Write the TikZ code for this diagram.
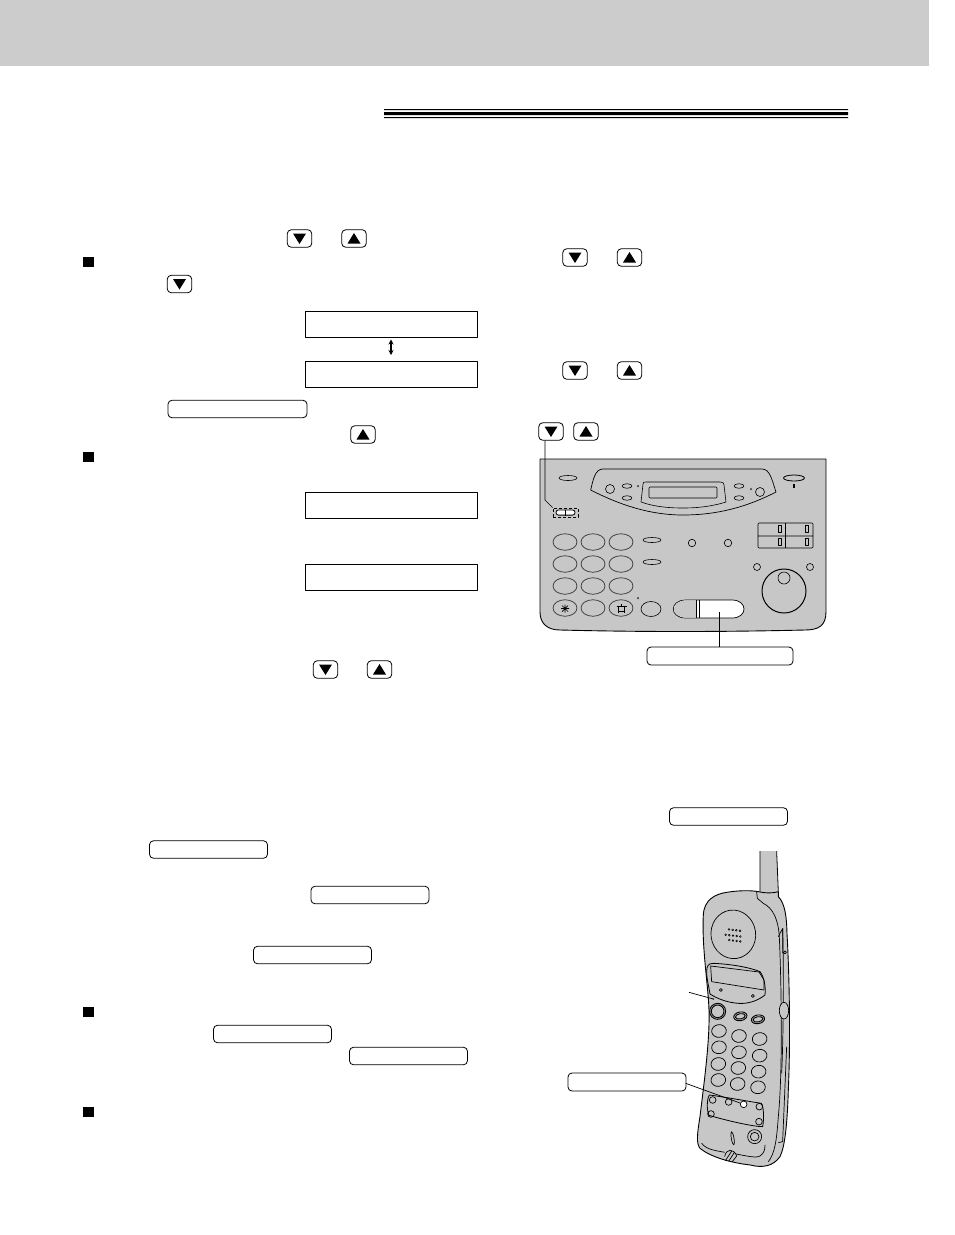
\documentclass[tikz,border=0pt]{standalone}
\usetikzlibrary{shapes.geometric,arrows.meta}
\definecolor{bandgray}{gray}{0.80}
\definecolor{bodygray}{gray}{0.78}
\tikzset{
  keybtn/.style={draw,rounded corners=4pt,line width=.8pt,fill=white,minimum width=24.5pt,minimum height=17.5pt,inner sep=0pt},
  longbtn/.style={keybtn,minimum width=118pt,minimum height=17.5pt},
  lcdbox/.style={draw,line width=1pt,fill=white,minimum width=172pt,minimum height=26pt,inner sep=0pt},
  blocksq/.style={fill=black,minimum size=10.5pt,inner sep=0pt},
  oval/.style={draw,ellipse,line width=.6pt,inner sep=0pt},
  roundb/.style={draw,circle,line width=.6pt,inner sep=0pt},
  dotb/.style={fill=black!70,circle,inner sep=0pt,minimum size=2.5pt},
  hline/.style={line width=.7pt}
}
\newcommand{\keydown}[3]{\node[keybtn] (#1) at (#2,#3) {};
\fill (#2-6.5,#3-5)--(#2+6.5,#3-5)--(#2,#3+5.5)--cycle;}
\newcommand{\keyup}[3]{\node[keybtn] (#1) at (#2,#3) {};
\fill (#2-6.5,#3+5)--(#2+6.5,#3+5)--(#2,#3-5.5)--cycle;}
\begin{document}
\begin{tikzpicture}[x=1pt,y=-1pt,line join=round]
\useasboundingbox (0,0) rectangle (954,1235);
\fill[bandgray] (0,0) rectangle (929,66);
% triple rule
\fill (384,109) rectangle (848,110.2) (384,112) rectangle (848,115) (384,117) rectangle (848,118.2);
% left column
\keydown{dnA}{299.5}{238.5}
\keyup{upA}{354}{238.5}
\node[blocksq] (sqA) at (88.5,262) {};
\keydown{dnB}{179.5}{284}
\node[lcdbox] (lcdA) at (391,324) {};
\node[lcdbox] (lcdB) at (391,374.5) {};
\draw[{Stealth[length=5pt,width=5pt]}-{Stealth[length=5pt,width=5pt]},line width=1.2pt] ([yshift=-2pt]lcdA.south) -- ([yshift=6pt]lcdB.north);
\node[longbtn,minimum width=139pt] (setA) at (237.5,409) {};
\keyup{upB}{363}{434.5}
\node[blocksq] (sqB) at (88.5,457) {};
\node[lcdbox] (lcdC) at (391,505) {};
\node[lcdbox] (lcdD) at (391,577) {};
\keydown{dnC}{325.5}{669.5}
\keyup{upC}{379.5}{669.5}
\node[longbtn] (btnA) at (208.5,849.5) {};
\node[longbtn] (btnB) at (370,895) {};
\node[longbtn] (btnC) at (312.5,955) {};
\node[blocksq] (sqC) at (88.5,1012) {};
\node[longbtn] (btnD) at (272.5,1034) {};
\node[longbtn] (btnE) at (408.5,1056) {};
\node[blocksq] (sqD) at (88.5,1112) {};
% right column
\keydown{dnD}{575}{257.5}
\keyup{upD}{629.5}{257.5}
\keydown{dnE}{575}{370.5}
\keyup{upE}{629.5}{370.5}
\keydown{dnF}{551}{431.5}
\keyup{upF}{586}{431.5}
\node[longbtn] (btnF) at (728.5,816.5) {};
% fax panel
\draw[fill=bodygray,line width=.9pt] (540,459)--(826,459)--(826,612) .. controls (826,626) and (818,630) .. (805,630) .. controls (720,632) and (640,632) .. (560,630) .. controls (548,630) and (540,624) .. (540,612)--cycle;
\node[oval,minimum width=18pt,minimum height=5pt] (topL) at (568,478) {};
\draw[line width=.7pt] (590.7,490) .. controls (593,480) and (595,469) .. (603,469)--(762,469) .. controls (770,469) and (772,480) .. (776,492) .. controls (745,508) and (715,515) .. (683,515) .. controls (650,515) and (620,505) .. (590.7,490)--cycle;
\draw[line width=.6pt] (641,502) to (643,484) .. controls (643,482) and (644,482) .. (646,482)--(720,482) .. controls (723,482) and (724,483) .. (724,485)--(726,502) .. controls (710,507) and (695,508) .. (683,508) .. controls (670,508) and (655,507) .. (641,502)--cycle;
\draw[line width=.6pt,rounded corners=1pt] (649,487) rectangle (717,498);
\node[roundb,minimum size=9pt] (padL) at (610,489) {};
\node[oval,minimum width=10pt,minimum height=4.5pt] (pa) at (627,486) {};
\node[oval,minimum width=10pt,minimum height=4.5pt] (pb) at (627,498) {};
\node[dotb] (pd) at (638,486) {};
\node[oval,minimum width=10pt,minimum height=4.5pt] (pe) at (739,486) {};
\node[oval,minimum width=10pt,minimum height=4.5pt] (pf) at (739,498) {};
\node[dotb] (pg) at (751,489) {};
\node[roundb,minimum size=9pt] (padR) at (760,492) {};
\node[oval,minimum width=21pt,minimum height=6pt,line width=.8pt] (topR) at (794,478) {};
\fill (793.3,484) rectangle (794.8,488);
% dashed pair
\node[draw,densely dashed,line width=.8pt,fill=bodygray,minimum width=25pt,minimum height=9pt,inner sep=0pt] (dash) at (565.5,512.5) {};
\node[draw,rounded corners=2.5pt,minimum width=19pt,minimum height=5.2pt,fill=white,line width=.8pt,inner sep=0pt] (pair) at (565.5,512.5) {};
\draw[line width=.6pt] (pair.north)--(pair.south);
\draw[hline] (dnF.south -| 545,0)--(545,500)--(dash.north west);
% dial keys
\foreach \kx/\kn in {565/a,593/b,621/c}
  \foreach \ky/\km in {542/a,564/b,586/c,608/d}
    \node[oval,minimum width=24pt,minimum height=16.5pt,draw=black!80,line width=.7pt] (k\kn\km) at (\kx,\ky) {};
\draw[line width=.7pt] (561,608.5)--(569,608.5) (565,604.5)--(565,612.5) (562,605.5)--(568,611.5) (562,611.5)--(568,605.5);
\draw[line width=.6pt] (618.5,606) rectangle (624.5,611.5) (616.5,606)--(626.5,606) (621,604)--(621,606) (618.5,611.5)--(618.5,613) (624.5,611.5)--(624.5,613);
\node[oval,minimum width=18pt,minimum height=5pt] (sideA) at (652,540) {};
\node[oval,minimum width=18pt,minimum height=5pt] (sideB) at (652,562) {};
\node[dotb] (sideD) at (638,598) {};
\node[oval,minimum width=20pt,minimum height=15pt] (sideC) at (651,609) {};
\node[roundb,minimum size=7.5pt] (cA) at (692,543) {};
\node[roundb,minimum size=7.5pt] (cB) at (728,543) {};
\draw[line width=.6pt,rounded corners=1pt] (758,523) rectangle (813,548) (785.5,523)--(785.5,548) (758,536)--(813,536);
\foreach \rx/\ry in {780/529,807/529,780/542,807/542}
  \draw[line width=.5pt] (\rx-1.5,\ry-3.5) rectangle (\rx+1.5,\ry+3.5);
\node[roundb,minimum size=7pt] (cC) at (757,567) {};
\node[roundb,minimum size=7pt] (cD) at (810,567) {};
\node[roundb,minimum size=44pt,line width=1pt] (dial) at (784,591) {};
\node[roundb,minimum size=12pt] (dialin) at (784,578) {};
% start key
\draw[line width=.7pt,fill=white] (686,600)--(732,600) .. controls (748,600) and (748,618) .. (732,618)--(686,618) .. controls (669,618) and (669,600) .. (686,600)--cycle;
\fill[bodygray] (686,600.4) .. controls (670,600.4) and (670,617.6) .. (686,617.6)--(697,617.6)--(697,600.4)--cycle;
\draw[line width=.8pt] (696.5,600)--(696.5,618) (699.5,600)--(699.5,618);
\coordinate (startk) at (719,612);
\node[longbtn,minimum width=146pt,minimum height=18pt] (btnG) at (720,656) {};
\draw[hline] (startk)--(startk |- btnG.north);
\node[longbtn,minimum height=18pt] (btnH) at (627,1082) {};
% handset, coordinates of a 3x crop
\begin{scope}[shift={(560,840)},x=.3333pt,y=-.3333pt,line width=.7pt]
\fill[bodygray] (600,33)--(600,160)--(655,160)--(650,33)--cycle;
\draw[line width=.8pt] (600,33)--(600,155) (650,33)--(655,155);
\draw[fill=bodygray,line width=.9pt] (430,225) .. controls (432,180) and (465,162) .. (500,157) .. controls (530,152) and (570,150) .. (595,155) .. controls (615,160) and (640,160) .. (655,155)--(655,170) .. controls (675,190) and (680,230) .. (681,280) .. controls (688,400) and (692,600) .. (685,750) .. controls (682,850) and (675,920) .. (660,950) .. controls (640,978) and (610,985) .. (570,975) .. controls (510,968) and (450,950) .. (420,925) .. controls (408,910) and (412,880) .. (420,830) .. controls (432,730) and (450,600) .. (447,510) .. controls (445,440) and (425,320) .. (430,225)--cycle;
\draw (590,155)--(592,175)--(610,190) .. controls (640,205) and (655,240) .. (658,290) .. controls (665,450) and (668,700) .. (655,830) .. controls (650,900) and (645,940) .. (625,965);
\draw (655,290)--(668,265) (668,265)--(668,340);
\draw (668,265) .. controls (672,400) and (670,600) .. (665,700) (680,620)--(668,905)--(655,908);
\node[draw,circle,inner sep=0pt,minimum size=3pt] (sidedot) at (675,337) {};
\draw[fill=bodygray] (672,512) ellipse (14 and 25);
\draw[rotate around={8:(520,283)}] (520,283) ellipse (67 and 73);
\foreach \sx/\sy/\sn in {496/267/4,486/283/5,497/299/4}
  \foreach \si in {1,...,\sn}
    \draw[line width=.5pt] (\sx+\si*11,\sy+\si*1.3) circle (2.8);
\draw[line width=.8pt] (440,395) .. controls (440,378) and (445,370) .. (460,370) .. controls (510,372) and (570,382) .. (600,395) .. controls (612,410) and (618,440) .. (615,465) .. controls (590,485) and (560,492) .. (535,490) .. controls (505,488) and (475,478) .. (450,462) .. controls (447,440) and (440,420) .. (440,395)--cycle;
\draw (452,378)--(597,396)--(612,420)--(612,450)--(455,425)--cycle;
\node[draw,circle,inner sep=0pt,minimum size=3pt] (dispa) at (483,450) {};
\node[draw,circle,inner sep=0pt,minimum size=3pt] (dispb) at (579,468) {};
\coordinate (ledc) at (460,477);
\fill[black!70] (ledc) circle (3);
\coordinate (ledo) at (387,457);
\draw (ledo)--(ledc);
\draw[line width=.9pt] (473,514) circle (24) (473,514) circle (19);
\draw[line width=.9pt,rotate around={10:(541,529)}] (541,529) ellipse (20 and 13) (541,529) ellipse (15 and 8);
\draw[line width=.9pt,rotate around={10:(594,538)}] (594,538) ellipse (20 and 13) (594,538) ellipse (15 and 8);
\foreach \px/\py in {477/573,537/588,599/597,477/622,537/637,599/647,475/672,535/684,596/695,475/720,533/732,594/742}
  \draw[rotate around={8:(\px,\py)}] (\px,\py) ellipse (22 and 19);
\draw[line width=.8pt] (448,765) .. controls (500,772) and (570,785) .. (604,790) .. controls (612,800) and (612,840) .. (608,860) .. controls (580,860) and (500,842) .. (447,826) .. controls (440,810) and (440,780) .. (448,765)--cycle;
\foreach \qx/\qy in {458/780,506/786,598/800,453/822,597/845}
  \draw (\qx,\qy) circle (10);
\coordinate (whitek) at (551,793);
\draw[hline] (377,730)--(whitek);
\draw[fill=white] (whitek) circle (10);
\draw[rotate around={10:(518,895)}] (518,895) ellipse (4 and 20);
\draw (584,890) circle (21) (584,890) circle (13);
\draw (425,910) .. controls (440,930) and (470,932) .. (494,937) (528,942) .. controls (560,948) and (590,955) .. (600,948) .. controls (612,940) and (615,930) .. (615,915);
\draw (494,950) .. controls (498,925) and (522,925) .. (530,948) (496,962)--(516,932) (506,964)--(524,936) (516,966)--(530,948);
\end{scope}
\end{tikzpicture}
\end{document}
